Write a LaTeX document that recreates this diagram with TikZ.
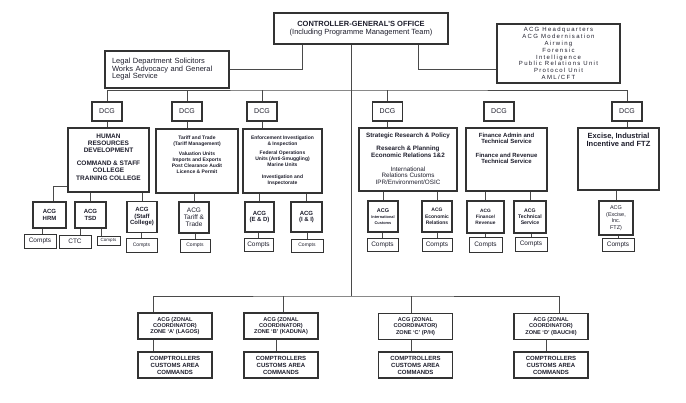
\documentclass[tikz,border=0pt]{standalone}
\usepackage{fontspec}
\setmainfont{Liberation Sans}
\definecolor{ocText}{HTML}{1E1E2C}
\definecolor{ocLine}{HTML}{333333}
\definecolor{ocGrey}{HTML}{4A4A4A}
\usetikzlibrary{positioning}
\newcommand{\fs}[2]{\fontsize{#1}{#2}\selectfont}

\begin{document}
\begin{tikzpicture}[x=1pt, y=-1pt,
  box/.style={draw=ocLine, line width=1.1pt, inner sep=0pt, align=center, text=ocText},
  sz/.style 2 args={minimum width=#1pt, minimum height=#2pt},
  dcgbox/.style={box, sz={30}{19}, font=\fs{7}{8}},
  acgbox/.style={box, font=\fs{6}{6.5}\bfseries},
  cbox/.style={box, line width=1pt, font=\fs{6.5}{7}},
  zbox/.style={box, sz={74}{26}, font=\fs{5.6}{6.4}\bfseries},
  txt/.style={anchor=north, align=center, text=ocText, inner sep=0pt},
  conn/.style={draw=ocGrey, line width=0.6pt}
]
  \useasboundingbox (0,0) rectangle (686,402);
  % Top offices
  \node[box, sz={174}{31}, font=\fs{7.5}{8}] (cg) at (361,28.5)
    {\textbf{CONTROLLER-GENERAL'S OFFICE}\\(Including Programme Management Team)};
  \node[box, sz={124}{37}, align=left, text width=110pt, font=\fs{7.5}{7.5}] (legal) at (167,69.5)
    {Legal Department Solicitors\\Works Advocacy and General\\Legal Service};
  \node[box, sz={123}{59}, font=\fs{6}{6.8}\addfontfeature{LetterSpace=22}] (hq) at (558.5,53.5)
    {ACG Headquarters\\ACG Modernisation\\Airwing\\Forensic\\Intelligence\\Public Relations Unit\\Protocol Unit\\AML/CFT};
  % DCG row
  \foreach \n/\x in {1/107, 2/187, 3/262, 4/387.5, 5/499, 6/627}
    \node[dcgbox] (dcg\n) at (\x,111.5) {DCG};
  % Divisions
  \node[box, sz={81}{64}] (hr) at (108.5,160) {};
  \node[box, sz={82}{64}] (tariff) at (197,161) {};
  \node[box, sz={79}{64}] (enf) at (282.5,161) {};
  \node[box, sz={98}{63}] (strat) at (408,159.5) {};
  \node[box, sz={81}{63}] (finadm) at (506.5,159.5) {};
  \node[box, sz={81}{62}] (excise) at (618.5,159) {};
  \node[txt, font=\fs{6.5}{7}\bfseries] (hr-t) at (108.5,134)
    {HUMAN\\RESOURCES\\DEVELOPMENT\\[6pt]COMMAND \& STAFF\\COLLEGE\\[1pt]TRAINING COLLEGE};
  \node[txt, font=\fs{5}{6}\bfseries] (tariff-t) at (197,136)
    {Tariff and Trade\\(Tariff Management)\\[4pt]Valuation Units\\Imports and Exports\\Post Clearance Audit\\Licence \& Permit};
  \node[txt, font=\fs{5}{6}\bfseries] (enf-t) at (282.5,136)
    {Enforcement Investigation\\\& Inspection\\[3pt]Federal Operations\\Units (Anti-Smuggling)\\Marine Units\\[6pt]Investigation and\\Inspectorate};
  \node[txt, font=\fs{6.3}{6.8}] (strat-t) at (408,133)
    {\textbf{Strategic Research \& Policy}\\[6pt]\textbf{Research \& Planning}\\\textbf{Economic Relations 1\&2}\\[7pt]International\\Relations Customs\\IPR/Environment/OSIC};
  \node[txt, font=\fs{6}{6.6}\bfseries] (finadm-t) at (506.5,132.5)
    {Finance Admin and\\Technical Service\\[7pt]Finance and Revenue\\Technical Service};
  \node[txt, font=\fs{7.5}{8}\bfseries] (excise-t) at (618.5,133)
    {Excise, Industrial\\Incentive and FTZ};
  % ACG row
  \node[acgbox, sz={33}{26}] (hrm) at (49.5,215) {ACG\\HRM};
  \node[acgbox, sz={31}{26}] (tsd) at (90.5,215) {ACG\\TSD};
  \node[acgbox, sz={30}{31}] (staff) at (142,217) {ACG\\(Staff\\College)};
  \node[acgbox, sz={30}{31}, font=\fs{6.5}{7}] (trade) at (194,217.5) {ACG\\Tariff \&\\Trade};
  \node[acgbox, sz={29}{30}] (ed) at (259.5,217) {ACG\\(E \& D)};
  \node[acgbox, sz={31}{30}] (ii) at (306.5,217) {ACG\\(I \& I)};
  \node[acgbox, sz={30}{31}, font=\fs{5.5}{6}\bfseries] (intl) at (383,216.5)
    {ACG\\{\fs{3.9}{5}International}\\{\fs{3.9}{5}Customs}};
  \node[acgbox, sz={30}{31}, font=\fs{5}{6.5}\bfseries] (econ) at (437,216.5) {ACG\\Economic\\Relations};
  \node[acgbox, sz={37}{32}, font=\fs{4.8}{6}\bfseries] (finrev) at (485.5,217) {ACG\\Finance/\\Revenue};
  \node[acgbox, sz={32}{32}, font=\fs{5.2}{6}\bfseries] (techsv) at (530,217) {ACG\\Technical\\Service};
  \node[acgbox, sz={34}{34}, font=\fs{5.5}{6.5}] (exacg) at (616,218) {ACG\\(Excise,\\Inc.\\FTZ)};
  % Compts row
  \node[cbox, sz={32}{14}] (chrm) at (40,241) {Compts};
  \node[cbox, sz={32}{13}] (ctc) at (75,241.5) {CTC};
  \node[cbox, sz={23}{9}, font=\fs{4.5}{5}] (ctsd) at (108.5,240.5) {Compts};
  \node[cbox, sz={31}{14}, font=\fs{5}{6}] (cstaff) at (141.5,245) {Compts};
  \node[cbox, sz={30}{13}, font=\fs{5}{6}] (ctrade) at (195,245.5) {Compts};
  \node[cbox, sz={29}{13}] (ced) at (258.5,244.5) {Compts};
  \node[cbox, sz={32}{13}, font=\fs{5}{6}] (cii) at (307,245.5) {Compts};
  \node[cbox, sz={31}{13}] (cintl) at (382.5,244.5) {Compts};
  \node[cbox, sz={30}{13}] (cecon) at (437,244.5) {Compts};
  \node[cbox, sz={33}{15}] (cfinrev) at (485.5,244.5) {Compts};
  \node[cbox, sz={32}{14}] (ctech) at (531,244) {Compts};
  \node[cbox, sz={32}{13}] (cexc) at (618,244.5) {Compts};
  % Zonal coordinators
  \node[zbox] (za) at (175,326) {ACG (ZONAL\\COORDINATOR)\\ZONE `A' (LAGOS)};
  \node[zbox] (zb) at (281,326) {ACG (ZONAL\\COORDINATOR)\\ZONE `B' (KADUNA)};
  \node[zbox] (zc) at (415.5,326.5) {ACG (ZONAL\\COORDINATOR)\\ZONE `C' (P/H)};
  \node[zbox] (zd) at (551,326.5) {ACG (ZONAL\\COORDINATOR)\\ZONE `D' (BAUCHI)};
  \foreach \z/\x in {a/175, b/281, c/415.5, d/551}
    \node[zbox, font=\fs{6}{7}\bfseries] (k\z) at (\x,365) {COMPTROLLERS\\CUSTOMS AREA\\COMMANDS};
  % Connectors
  \coordinate (tbus) at (351,90);
  \coordinate (zbus) at (351,296);
  \draw[conn] ([xshift=-10pt]cg.south) -- (zbus);
  \draw[conn] (legal.east) -| ([xshift=-59pt]cg.south);
  \draw[conn] ([xshift=57pt]cg.south) |- ([yshift=-15.5pt]hq.west);
  \draw[conn] (dcg1.north) |- (tbus) -| (dcg6.north);
  \foreach \n in {2,3,4}
    \draw[conn] (dcg\n.north) -- (dcg\n.north |- tbus);
  \foreach \n/\b in {1/hr, 2/tariff, 3/enf, 4/strat, 6/excise}
    \draw[conn] (dcg\n.south) -- (dcg\n.south |- \b.north);
  \draw[conn] ([yshift=-26pt]hr.west) -| ([xshift=3.5pt]hrm.north);
  \foreach \a/\b in {tsd/hr, staff/hr, trade/tariff, ed/enf, ii/enf, intl/strat, econ/strat, finrev/finadm, techsv/finadm, exacg/excise}
    \draw[conn] (\a.north) -- (\a.north |- \b.south);
  \draw[conn] ([xshift=2.5pt]chrm.north) -- ([xshift=2.5pt]chrm.north |- hrm.south);
  \draw[conn] ([xshift=5pt]ctc.north) -- ([xshift=5pt]ctc.north |- tsd.south);
  \draw[conn] ([xshift=-7.5pt]ctsd.north) -- ([xshift=-7.5pt]ctsd.north |- tsd.south);
  \foreach \c/\a in {cstaff/staff, ctrade/trade, ced/ed, cii/ii, cintl/intl, cecon/econ, cfinrev/finrev, ctech/techsv, cexc/exacg}
    \draw[conn] (\c.north) -- (\c.north |- \a.south);
  \draw[conn] ([xshift=-22pt]za.north) |- (zbus) -| ([xshift=8pt]zd.north);
  \draw[conn] ([xshift=2pt]zb.north) -- ([xshift=2pt]zb.north |- zbus);
  \draw[conn] ([xshift=-4.5pt]zc.north) -- ([xshift=-4.5pt]zc.north |- zbus);
  \foreach \z/\s in {a/-22pt, b/-5pt, c/-4.5pt, d/-5pt}
    \draw[conn] ([xshift=\s]z\z.south) -- ([xshift=\s]k\z.north);
\end{tikzpicture}
\end{document}
